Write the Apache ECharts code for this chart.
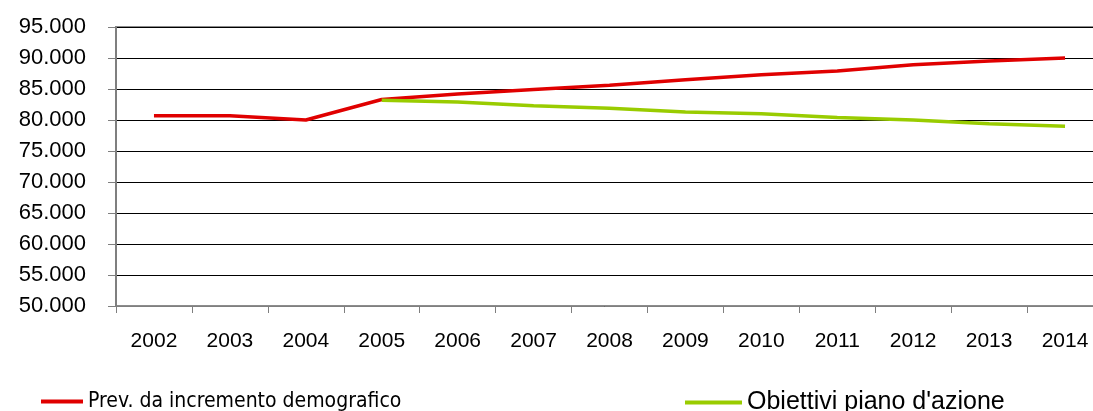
<!DOCTYPE html>
<html>
<head>
<meta charset="utf-8">
<script src="https://cdn.jsdelivr.net/npm/echarts@6/dist/echarts.min.js"></script>
<style>
  html, body { margin: 0; padding: 0; background: #fff; }
  #main { width: 1093px; height: 411px; }
</style>
</head>
<body>
<div id="main"></div>
<script>
var years = ['2002', '2003', '2004', '2005', '2006', '2007', '2008', '2009', '2010', '2011', '2012', '2013', '2014'];
var prevDemografico = [80700, 80700, 80000, 83300, 84200, 84900, 85600, 86500, 87300, 87900, 88900, 89500, 90000];
var obiettiviPiano = [null, null, null, 83200, 82900, 82300, 81900, 81300, 81000, 80400, 80000, 79400, 79000];
var seriesNames = ['Prev. da incremento demografico', 'Obiettivi piano d\'azione'];

var myChart = echarts.init(document.getElementById('main'));

// numbers like 95.000 (Italian thousands separator)
function fmt(v) {
    return String(v).replace(/\B(?=(\d{3})+(?!\d))/g, '.');
}

var option = {
    animation: false,
    textStyle: { fontFamily: 'Liberation Sans' },
    // plot runs past the right edge of the picture, like the original crop
    grid: {
        left: 116, top: 27, height: 279, width: 987,
        outerBoundsMode: 'none',
        show: true, borderColor: '#8c8c8c', borderWidth: 2
    },
    legend: [{
        left: 36, top: 386,
        icon: 'rect', itemWidth: 42, itemHeight: 4, itemGap: 0,
        data: [seriesNames[0]],
        textStyle: { fontFamily: "'DejaVu Sans Condensed', 'Liberation Sans'", fontSize: 21, color: '#000' }
    }, {
        left: 680, top: 385,
        icon: 'rect', itemWidth: 57, itemHeight: 4, itemGap: 0,
        data: [seriesNames[1]],
        textStyle: { fontFamily: 'Liberation Sans', fontSize: 25, color: '#000' }
    }],
    xAxis: {
        type: 'category',
        data: years,
        boundaryGap: true,
        axisLine: { lineStyle: { color: '#7f7f7f', width: 1 } },
        axisTick: { show: true, length: 7, lineStyle: { color: '#7f7f7f' } },
        axisLabel: { color: '#000', fontSize: 21, margin: 25 }
    },
    yAxis: {
        type: 'value',
        min: 50000, max: 95000, interval: 5000,
        axisLine: { show: true, lineStyle: { color: '#7f7f7f', width: 2 } },
        axisTick: { show: true, length: 8, lineStyle: { color: '#7f7f7f' } },
        splitLine: { lineStyle: { color: '#000', width: 1 } },
        axisLabel: { color: '#000', fontSize: 22, margin: 30, formatter: fmt }
    },
    series: [{
        name: seriesNames[0],
        type: 'line',
        data: prevDemografico,
        symbol: 'none',
        color: '#e00000',
        lineStyle: { width: 3.5, color: '#e00000' }
    }, {
        name: seriesNames[1],
        type: 'line',
        data: obiettiviPiano,
        symbol: 'none',
        color: '#99cc00',
        lineStyle: { width: 3.5, color: '#99cc00' }
    }]
};
myChart.setOption(option);
</script>
</body>
</html>
